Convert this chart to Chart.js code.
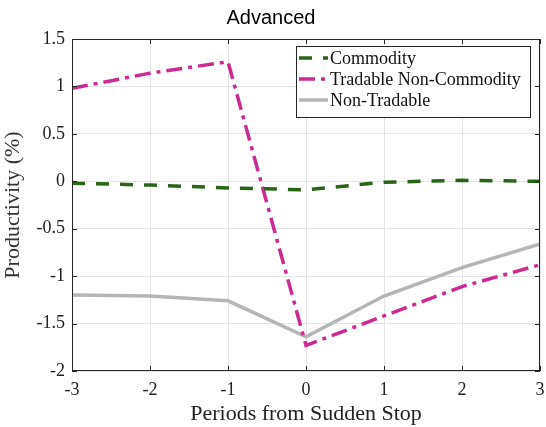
<!DOCTYPE html>
<html>
<head>
<meta charset="utf-8">
<script src="https://cdn.jsdelivr.net/npm/chart.js@4/dist/chart.umd.min.js"></script>
<style>
  html, body { margin: 0; padding: 0; background: #fff; }
  #wrap { width: 546px; height: 427px; }
</style>
</head>
<body>
<div id="wrap"><canvas id="prodChart" width="546" height="427"></canvas></div>
<script>
const periods = [-3, -2, -1, 0, 1, 2, 3];
const commodity = [-0.02, -0.04, -0.07, -0.09, -0.01, 0.01, 0.0];
const tradableNonCommodity = [0.98, 1.14, 1.26, -1.73, -1.42, -1.11, -0.88];
const nonTradable = [-1.20, -1.21, -1.26, -1.64, -1.21, -0.91, -0.66];
const yTicks = [1.5, 1, 0.5, 0, -0.5, -1, -1.5, -2];

const serif = "'Liberation Serif', 'DejaVu Serif', serif";

function toPoints(vals) {
    return periods.map((p, i) => ({ x: p, y: vals[i] }));
}

// frame, inward ticks, title and boxed legend drawn after the datasets
const decor = {
    id: 'decor',
    afterDatasetsDraw(chart) {
        const { ctx, chartArea: a, scales } = chart;
        ctx.save();
        ctx.strokeStyle = '#262626';
        ctx.lineWidth = 1;
        ctx.strokeRect(a.left + 0.5, a.top + 0.5, a.right - a.left - 1, a.bottom - a.top - 1);
        ctx.beginPath();
        periods.forEach(p => {
            const x = Math.round(scales.x.getPixelForValue(p)) + 0.5;
            ctx.moveTo(x, a.bottom); ctx.lineTo(x, a.bottom - 5);
            ctx.moveTo(x, a.top); ctx.lineTo(x, a.top + 5);
        });
        yTicks.forEach(v => {
            const y = Math.round(scales.y.getPixelForValue(v)) + 0.5;
            ctx.moveTo(a.left, y); ctx.lineTo(a.left + 5, y);
            ctx.moveTo(a.right, y); ctx.lineTo(a.right - 5, y);
        });
        ctx.stroke();

        // title
        ctx.fillStyle = '#000';
        ctx.font = "20px 'Liberation Sans', Arial, sans-serif";
        ctx.textAlign = 'center';
        ctx.textBaseline = 'middle';
        ctx.fillText('Advanced', chart.width / 2 - 2, 18);

        // legend
        const bx = 296, by = 46, bw = 234, bh = 71;
        ctx.fillStyle = '#fff';
        ctx.fillRect(bx, by, bw, bh);
        ctx.strokeStyle = '#262626';
        ctx.strokeRect(bx + 0.5, by + 0.5, bw, bh);
        ctx.font = '18px ' + serif;
        ctx.textAlign = 'left';
        chart.data.datasets.forEach((ds, i) => {
            const y = by + 12 + i * 21;
            ctx.strokeStyle = ds.borderColor;
            ctx.lineWidth = ds.borderWidth;
            ctx.setLineDash(ds.borderDash || []);
            ctx.beginPath();
            ctx.moveTo(bx + 3, y);
            ctx.lineTo(bx + 32, y);
            ctx.stroke();
            ctx.setLineDash([]);
            ctx.fillStyle = '#111';
            ctx.fillText(ds.label, bx + 34, y + 1);
        });
        ctx.restore();
    }
};

new Chart(document.getElementById('prodChart').getContext('2d'), {
    type: 'line',
    data: {
        datasets: [{
            label: 'Commodity',
            data: toPoints(commodity),
            borderColor: '#2a6418',
            borderWidth: 3.5,
            borderDash: [13, 11],
            pointRadius: 0,
            fill: false
        }, {
            label: 'Tradable Non-Commodity',
            data: toPoints(tradableNonCommodity),
            borderColor: '#cc2a93',
            borderWidth: 3.5,
            borderDash: [16, 6, 4, 6],
            pointRadius: 0,
            fill: false
        }, {
            label: 'Non-Tradable',
            data: toPoints(nonTradable),
            borderColor: '#b5b5b5',
            borderWidth: 3.5,
            pointRadius: 0,
            fill: false
        }]
    },
    options: {
        responsive: false,
        animation: false,
        layout: { padding: { top: 39, right: 6, left: 0, bottom: 0 } },
        plugins: {
            legend: { display: false },
            title: { display: false },
            tooltip: { enabled: false }
        },
        scales: {
            x: {
                type: 'linear',
                min: -3,
                max: 3,
                ticks: {
                    stepSize: 1,
                    color: '#222',
                    font: { family: serif, size: 18 },
                    padding: 8,
                    callback: v => String(v)
                },
                grid: { color: '#e4e4e4', drawTicks: false },
                border: { display: false },
                title: {
                    display: true,
                    text: 'Periods from Sudden Stop',
                    color: '#222',
                    font: { family: serif, size: 22 },
                    padding: { top: 0, bottom: 0 }
                },
                afterFit(scale) {
                    scale.height = 56;
                    scale.paddingLeft = 0;
                    scale.paddingRight = 0;
                }
            },
            y: {
                min: -2,
                max: 1.5,
                afterBuildTicks(scale) { scale.ticks = yTicks.map(v => ({ value: v })); },
                ticks: {
                    color: '#222',
                    font: { family: serif, size: 18 },
                    padding: 7,
                    callback: v => String(v)
                },
                grid: { color: '#e4e4e4', drawTicks: false },
                border: { display: false },
                title: {
                    display: true,
                    text: 'Productivity (%)',
                    color: '#333',
                    font: { family: serif, size: 22 },
                    padding: { top: 0, bottom: 2 }
                },
                afterFit(scale) {
                    scale.width = 72;
                    scale.paddingTop = 0;
                    scale.paddingBottom = 0;
                }
            }
        }
    },
    plugins: [decor]
});
</script>
</body>
</html>
